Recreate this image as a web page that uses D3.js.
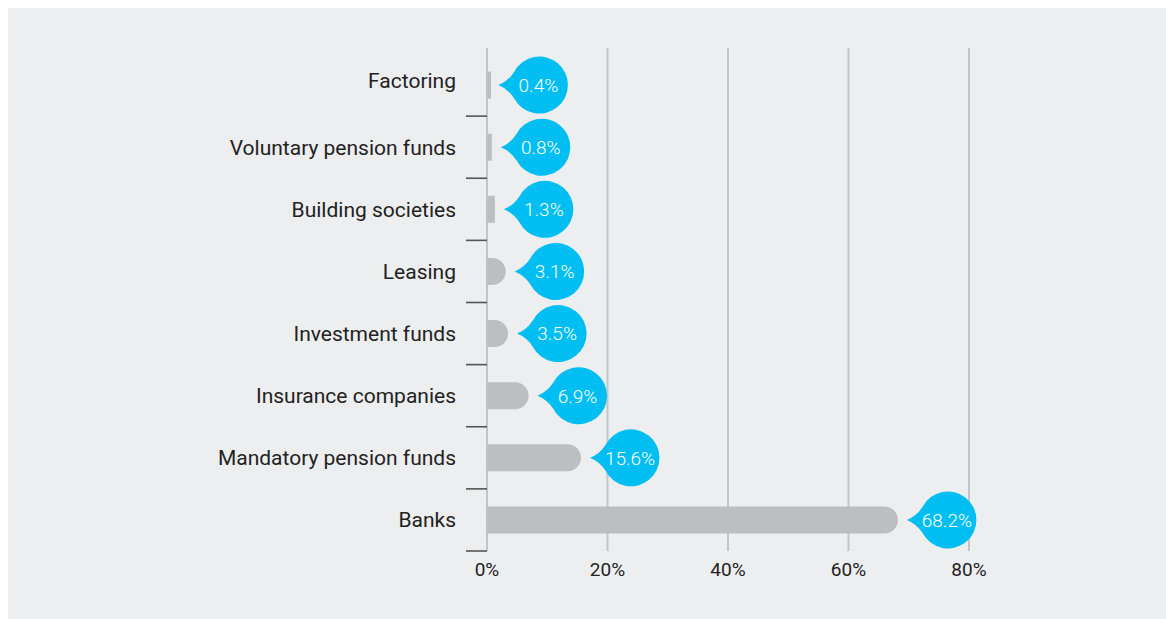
<!DOCTYPE html>
<html>
<head>
<meta charset="utf-8">
<script src="https://cdn.jsdelivr.net/npm/d3@7"></script>
<style>
  body { margin: 0; background: #fff; }
  text { font-family: "Roboto", "DejaVu Sans", sans-serif; }
</style>
</head>
<body>
<svg id="chart"></svg>
<script>
"use strict";

// Chart data
const categories = ["Factoring", "Voluntary pension funds", "Building societies", "Leasing",
                    "Investment funds", "Insurance companies", "Mandatory pension funds", "Banks"];
const shares = [0.4, 0.8, 1.3, 3.1, 3.5, 6.9, 15.6, 68.2];
const x_ticks = [0, 20, 40, 60, 80];

const width = 1166, height = 619;
const margins = {top: 54, right: 197, bottom: 68, left: 487};
const BAR_HEIGHT = 27;
const BUBBLE_R = 28.5;

const svg = d3.select("#chart").attr("width", width).attr("height", height);

// Background panel
svg.append("rect")
    .attr("x", 8).attr("y", 8)
    .attr("width", width - 8).attr("height", height - 8)
    .attr("fill", "#edeef0");

const x_scale = d3.scaleLinear()
    .domain([0, 80])
    .range([margins.left, width - margins.right]);

const y_scale = d3.scaleBand()
    .domain(categories)
    .range([margins.top, height - margins.bottom])
    .paddingInner(0).paddingOuter(0);

const grid_top = 48, grid_bottom = height - margins.bottom;

// Vertical gridlines (including the 0 axis line)
svg.append("g").selectAll("line")
    .data(x_ticks)
    .join("line")
    .attr("x1", d => x_scale(d)).attr("x2", d => x_scale(d))
    .attr("y1", grid_top).attr("y2", grid_bottom)
    .attr("stroke", "#c3c4c6")
    .attr("stroke-width", 2);

// X tick labels
svg.append("g").selectAll("text")
    .data(x_ticks)
    .join("text")
    .attr("x", d => x_scale(d))
    .attr("y", grid_bottom + 25)
    .attr("text-anchor", "middle")
    .attr("font-size", 19)
    .attr("fill", "#222")
    .text(d => d + "%");

// Category separator ticks on the left
const boundaries = categories.map(c => y_scale(c) + y_scale.bandwidth());
svg.append("g").selectAll("line")
    .data(boundaries)
    .join("line")
    .attr("x1", margins.left - 21).attr("x2", margins.left)
    .attr("y1", d => d).attr("y2", d => d)
    .attr("stroke", "#555")
    .attr("stroke-width", 1.6);

// Category labels
svg.append("g").selectAll("text")
    .data(categories)
    .join("text")
    .attr("x", margins.left - 31)
    .attr("y", (d, i) => y_scale(d) + y_scale.bandwidth() / 2 - (i === 0 ? 4 : 0))
    .attr("dy", "0.35em")
    .attr("text-anchor", "end")
    .attr("font-size", 21)
    .attr("fill", "#222")
    .text(d => d);

// Bars with rounded right end
function bar_path(v, cat) {
    const x0 = x_scale(0), x1 = x_scale(v);
    const w = x1 - x0;
    const y = y_scale(cat) + y_scale.bandwidth() / 2 - BAR_HEIGHT / 2;
    const ry = BAR_HEIGHT / 2;
    const rx = w > 10 ? Math.min(ry, w - 2) : 0;
    if (rx === 0) {
        return "M" + x0 + "," + y + "H" + (x0 + Math.max(w, 4)) + "V" + (y + BAR_HEIGHT) + "H" + x0 + "Z";
    }
    return "M" + x0 + "," + y + "H" + (x1 - rx) +
        "A" + rx + "," + ry + " 0 0 1 " + (x1 - rx) + "," + (y + BAR_HEIGHT) +
        "H" + x0 + "Z";
}

svg.append("g").selectAll("path")
    .data(shares)
    .join("path")
    .attr("d", (d, i) => bar_path(d, categories[i]))
    .attr("fill", "#bdbec0");

// Value bubbles (circle with a pointer towards the bar)
function bubble_path(cx, cy) {
    const r = BUBBLE_R;
    const a = 28 * Math.PI / 180;
    const px = cx - r * Math.cos(a), py = r * Math.sin(a);
    const tip = cx - 41;
    return "M" + tip + "," + cy +
        "Q" + (cx - 31) + "," + (cy - 4) + " " + px + "," + (cy - py) +
        "A" + r + "," + r + " 0 1 1 " + px + "," + (cy + py) +
        "Q" + (cx - 31) + "," + (cy + 4) + " " + tip + "," + cy + "Z";
}

const bubbles = svg.append("g").selectAll("g")
    .data(shares)
    .join("g")
    .attr("transform", (d, i) => "translate(" + (x_scale(d) + 50) + "," +
        (y_scale(categories[i]) + y_scale.bandwidth() / 2) + ")");

bubbles.append("path")
    .attr("d", bubble_path(0, 0))
    .attr("fill", "#00bef2");

bubbles.append("text")
    .attr("x", -1)
    .attr("dy", "0.36em")
    .attr("text-anchor", "middle")
    .attr("font-size", 19)
    .attr("font-weight", 300)
    .attr("fill", "#fff")
    .text(d => d.toFixed(1) + "%");
</script>
</body>
</html>
